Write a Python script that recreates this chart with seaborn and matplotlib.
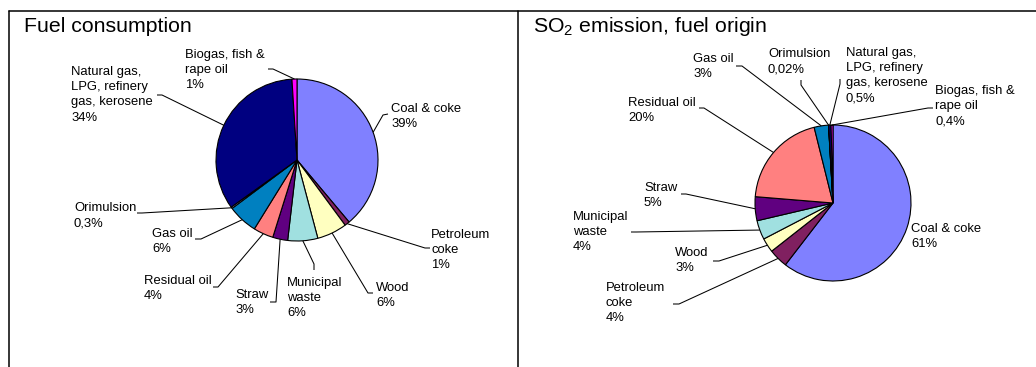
import numpy as np
import matplotlib
matplotlib.use("Agg")
import matplotlib.pyplot as plt
import seaborn as sns

# ---- data -------------------------------------------------------------
fuel_names = ["Coal & coke", "Petroleum\ncoke", "Wood", "Municipal\nwaste", "Straw",
              "Residual oil", "Gas oil", "Orimulsion",
              "Natural gas,\nLPG, refinery\ngas, kerosene", "Biogas, fish &\nrape oil"]
fuel_share = [39, 1, 6, 6, 3, 4, 6, 0.3, 34, 1]
so2_share = [61, 4, 3, 4, 5, 20, 3, 0.02, 0.5, 0.4]

left_title = "Fuel consumption"
right_title = "SO$_\\mathregular{2}$ emission, fuel origin"

fuel_colors = ["#8080FF", "#802060", "#FFFFC0", "#A0E0E0", "#600080",
               "#FF8080", "#0080C0", "#C0C0FF", "#000080", "#FF00FF"]

# ---- layout (pixel units, y measured from the top) ----------------------
W, H = 1036, 367
left_pie = dict(center=(297, 160), radius=81)
right_pie = dict(center=(833, 203), radius=78)

# text top-left corner and leader stub points, one entry per slice
left_layout = [
    ((391, 103), [(388, 114), (383, 115)]),
    ((431, 229), [(430, 248), (425, 248)]),
    ((376, 282), [(373, 293), (368, 293)]),
    ((287, 277), [(314, 270), (314, 264)]),
    ((235, 289), [(270, 302), (276, 302)]),
    ((144, 275), [(213, 287), (218, 287)]),
    ((152, 228), [(195, 239), (201, 239)]),
    ((74, 202), [(137, 213), (142, 213)]),
    ((71, 66), [(157, 95), (162, 95)]),
    ((185, 49), [(268, 69), (273, 69)]),
]
right_layout = [
    ((911, 223), None),
    ((606, 282), [(673, 304), (679, 304)]),
    ((675, 247), [(713, 261), (719, 261)]),
    ((573, 211), [(631, 232), (636, 232)]),
    ((644, 182), [(681, 194), (686, 194)]),
    ((628, 97), [(699, 108), (704, 108)]),
    ((693, 53), [(736, 66), (742, 66)]),
    ((768, 48), [(801, 80), (801, 85)]),
    ((846, 47), [(840, 79), (840, 84)]),
    ((935, 85), [(933, 108), (928, 108)]),
]

sns.set_theme(style="white")
plt.rcParams["font.family"] = ["Liberation Sans", "DejaVu Sans"]
plt.rcParams["mathtext.fontset"] = "custom"
plt.rcParams["mathtext.rm"] = "Liberation Sans"
plt.rcParams["text.color"] = "black"

fig = plt.figure(figsize=(W / 100, H / 100), dpi=100)
ax = fig.add_axes([0, 0, 1, 1])


def Y(y):
    return H - y


def pct(v):
    return f"{v:g}".replace(".", ",") + "%"


palette = sns.color_palette(fuel_colors)


def draw_pie(values, pie, layout):
    cx, cy = pie["center"]
    r = pie["radius"]
    wedges, _ = ax.pie(values, colors=palette, startangle=90, counterclock=False,
                       radius=r, center=(cx, Y(cy)), frame=True,
                       wedgeprops=dict(edgecolor="black", linewidth=0.8))
    for name, v, w, (tpos, stub) in zip(fuel_names, values, wedges, layout):
        ax.text(tpos[0], Y(tpos[1]), f"{name}\n{pct(v)}", ha="left", va="top",
                fontsize=9.4, linespacing=1.36, color="black")
        if stub is None:
            continue
        mid = np.deg2rad((w.theta1 + w.theta2) / 2)
        ex, ey = cx + r * np.cos(mid), Y(cy) + r * np.sin(mid)
        xs = [p[0] for p in stub] + [ex]
        ys = [Y(p[1]) for p in stub] + [ey]
        ax.plot(xs, ys, color="black", lw=0.75, solid_capstyle="butt")


draw_pie(fuel_share, left_pie, left_layout)
draw_pie(so2_share, right_pie, right_layout)

# titles
ax.text(24, Y(32), left_title, fontsize=15.3, ha="left", va="baseline", color="black")
ax.text(533, Y(32), right_title, fontsize=15.3, ha="left", va="baseline", color="black")

# panel frames
ax.plot([9, W], [Y(11), Y(11)], color="black", lw=1.1)
ax.plot([9, 9], [Y(11), 0], color="black", lw=1.1)
ax.plot([518, 518], [Y(11), 0], color="black", lw=1.1)

ax.set_xlim(0, W)
ax.set_ylim(0, H)
ax.set_aspect("auto")
ax.set_axis_off()

fig.savefig("out.png", dpi=100, facecolor="white")
